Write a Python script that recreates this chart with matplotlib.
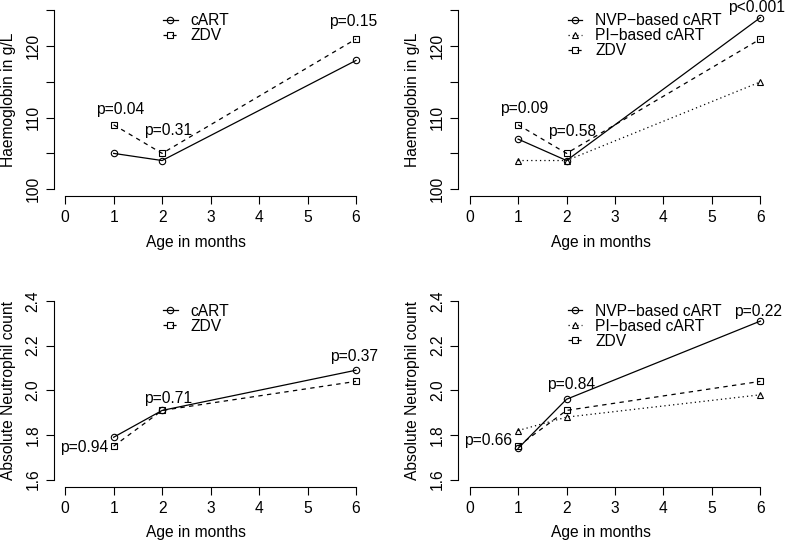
import matplotlib
matplotlib.use("Agg")
import matplotlib.pyplot as plt

plt.rcParams['font.family'] = ['Liberation Sans', 'DejaVu Sans']

months = [1, 2, 6]
x_ticks = [0, 1, 2, 3, 4, 5, 6]

# haemoglobin (g/L)
hb_cart = [105, 104, 118]
hb_zdv = [109, 105, 121]
hb_nvp = [107, 104, 124]
hb_pi = [104, 104, 115]
hb_ticks = [100, 105, 110, 115, 120, 125]
hb_tick_labels = ["100", "", "110", "", "120", ""]

# absolute neutrophil count
anc_cart = [1.79, 1.91, 2.09]
anc_zdv = [1.75, 1.91, 2.04]
anc_nvp = [1.74, 1.96, 2.31]
anc_pi = [1.82, 1.88, 1.98]
anc_ticks = [1.6, 1.8, 2.0, 2.2, 2.4]
anc_tick_labels = ["1.6", "1.8", "2.0", "2.2", "2.4"]

# p-values and where they sit
p_hb_two = ["p=0.04", "p=0.31", "p=0.15"]
p_hb_two_x = [1.13, 2.12, 5.95]
p_hb_two_y = [111.2, 108.2, 123.4]
p_hb_three = ["p=0.09", "p=0.58", "p<0.001"]
p_hb_three_x = [1.13, 2.12, 5.92]
p_hb_three_y = [111.3, 108.1, 125.4]
p_anc_two = ["p=0.94", "p=0.71", "p=0.37"]
p_anc_two_x = [0.39, 2.12, 5.95]
p_anc_two_y = [1.743, 1.963, 2.15]
p_anc_three = ["p=0.66", "p=0.84", "p=0.22"]
p_anc_three_x = [0.39, 2.10, 5.95]
p_anc_three_y = [1.774, 2.026, 2.355]

FS = 11.25
TICK_FS = 11.25

sty = {
    "circle": dict(marker="o", ls="-", ms=4.6),
    "tri": dict(marker="^", ls=(0, (1, 2.5)), ms=5),
    "square": dict(marker="s", ls=(0, (3.5, 3.5)), ms=4.3),
}


def draw(ax, series, ylim, yticks, ylabels, ybounds, ylab, ptxt, px, py):
    for name, vals, kind in series:
        ax.plot(months, vals, color="black", lw=0.9, mfc="none", mew=0.8,
                label=name, **sty[kind])
    ax.set_xlim(-0.24, 6.24)
    ax.set_ylim(*ylim)
    ax.set_xticks(x_ticks)
    ax.set_yticks(yticks)
    ax.set_yticklabels(ylabels)
    for s in ["top", "right"]:
        ax.spines[s].set_visible(False)
    ax.spines["left"].set_bounds(*ybounds)
    ax.spines["bottom"].set_bounds(0, 6)
    for s in ["left", "bottom"]:
        ax.spines[s].set_linewidth(0.8)
    ax.tick_params(direction="out", length=5.5, width=0.8, labelsize=TICK_FS, pad=4.5)
    ax.tick_params(axis="y", labelrotation=90, pad=4)
    for lab in ax.get_yticklabels():
        lab.set_va("center")
    ax.set_xlabel("Age in months", fontsize=FS)
    ax.xaxis.set_label_coords(0.455, -0.2)
    ax.set_ylabel(ylab, fontsize=FS)
    ax.yaxis.set_label_coords(-0.121, 0.5)
    for t, x, y in zip(ptxt, px, py):
        ax.text(x, y, t, fontsize=FS, ha="center", va="center")
    ax.legend(loc="upper left", bbox_to_anchor=(0.35, 0.948), frameon=False,
              fontsize=FS, handlelength=0.9, handletextpad=0.85, labelspacing=0.0,
              borderpad=0, borderaxespad=0, numpoints=1)


fig = plt.figure(figsize=(7.85, 5.44), dpi=100)
w, h = 0.4001, 0.3548
ax1 = fig.add_axes([0.0682, 0.6392, w, h])
ax2 = fig.add_axes([0.5834, 0.6392, w, h])
ax3 = fig.add_axes([0.0682, 0.1051, w, h])
ax4 = fig.add_axes([0.5834, 0.1051, w, h])

draw(ax1, [("cART", hb_cart, "circle"), ("ZDV", hb_zdv, "square")],
     (99, 126), hb_ticks, hb_tick_labels, (100, 125), "Haemoglobin in g/L",
     p_hb_two, p_hb_two_x, p_hb_two_y)
draw(ax2, [("NVP\u2212based cART", hb_nvp, "circle"), ("PI\u2212based cART", hb_pi, "tri"),
           ("ZDV", hb_zdv, "square")],
     (99, 126), hb_ticks, hb_tick_labels, (100, 125), "Haemoglobin in g/L",
     p_hb_three, p_hb_three_x, p_hb_three_y)
draw(ax3, [("cART", anc_cart, "circle"), ("ZDV", anc_zdv, "square")],
     (1.568, 2.432), anc_ticks, anc_tick_labels, (1.6, 2.4), "Absolute Neutrophil count",
     p_anc_two, p_anc_two_x, p_anc_two_y)
draw(ax4, [("NVP\u2212based cART", anc_nvp, "circle"), ("PI\u2212based cART", anc_pi, "tri"),
           ("ZDV", anc_zdv, "square")],
     (1.568, 2.432), anc_ticks, anc_tick_labels, (1.6, 2.4), "Absolute Neutrophil count",
     p_anc_three, p_anc_three_x, p_anc_three_y)

fig.savefig("out.png", dpi=100)
